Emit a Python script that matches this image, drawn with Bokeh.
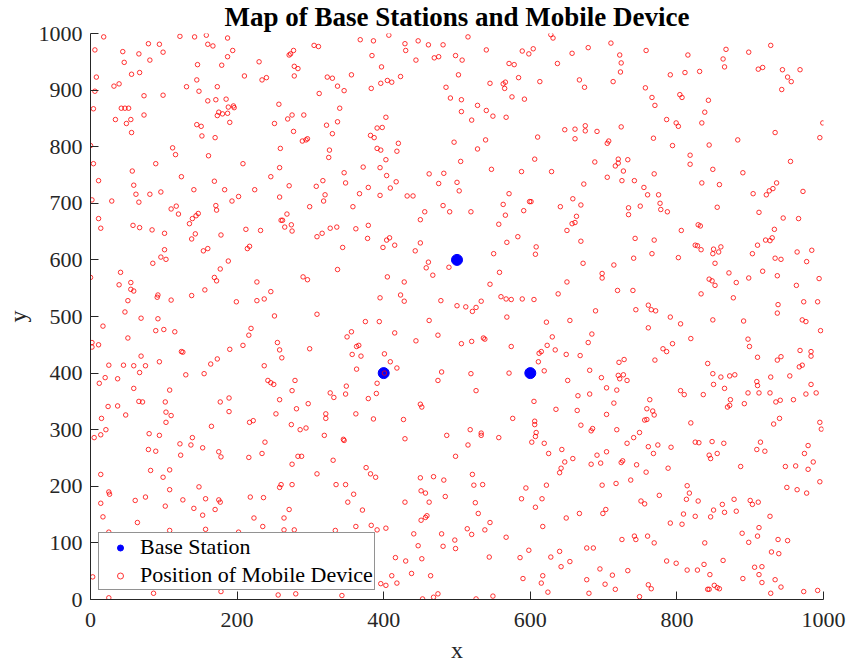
from bokeh.plotting import figure
from bokeh.models import FixedTicker, Legend, LegendItem, Range1d, Title
from bokeh.embed import file_html
from bokeh.resources import INLINE

title_text = "Map of Base Stations and Mobile Device"
x_label = "x"
y_label = "y"
x_ticks = [0, 200, 400, 600, 800, 1000]
y_ticks = [0, 100, 200, 300, 400, 500, 600, 700, 800, 900, 1000]

bs_x = [400, 500, 600]
bs_y = [400, 600, 400]

mobile_x = (
    [18,122,142,158,187,79,94,160,167,6,44,66,99,194,187,46,81,146,179,230,8,56,67,210,234,240,145,6,32,39,131,148,173,73,99,160,171,185,4,42,47,52,188,195,196,175,173,180,187,34,55,49,73,145,151,190,56,152,170,0,112,116,161,4,89,208,57,11,124,169,246,59,62,81,96,141,183,224,202,2,29,66,193,117,110,171,172,120,11,147,144,139]
    + [368,386,407,429,447,461,481,305,311,277,273,271,384,430,444,469,475,498,278,283,397,278,323,330,356,405,411,396,423,502,337,346,383,485,312,491,257,340,269,275,291,251,403,337,322,391,398,277,330,382,387,289,294,296,420,496,259,326,391,396,418,325,403,258,372,395,346,404,462,482,348,417,475,500,271,308,317,379,409,320,367,395,432,440,258,318,481,299,358,456,490,268,262,260,450]
    + [515,628,631,710,540,589,598,604,657,679,722,507,571,578,637,724,723,584,545,563,566,565,613,667,674,713,575,592,506,528,540,506,549,567,520,647,661,675,675,691,724,610,661,539,707,705,528,505,606,688,720,720,716,733,547,588,629,727,705,725,742,503,673,755,571,658,599,601,563,669,641,519,591,566,734,734,750,663]
    + [758,815,867,863,865,898,928,911,917,944,968,951,956,943,791,811,831,757,766,770,804,807,843,838,786,799,802,834,999,768,794,844,883,934,995,818,818,849,955,769,890,834,858,936,760,775,777,778,787,855,904,922,926,931,972,912,945,966]
    + [14,58,67,84,101,135,143,138,178,212,232,154,160,214,217,101,96,103,85,188,41,0,39,55,55,59,91,92,110,138,156,169,172,177,227,246,199,227,237,51,47,69,92,17,89,100,115,219,216,51,2,2,11,124,126,190,208,69,94,173,164,25,45,59,75,237,67,20,37,12,130,155,242,246,59,108,189,177,24,37,66,71,102,103,189]
    + [265,274,275,309,316,327,336,362,379,378,404,408,399,415,450,443,344,337,290,296,405,428,461,458,467,489,395,423,428,478,500,251,309,375,394,462,356,350,415,444,474,255,258,261,299,363,366,357,369,401,409,418,363,479,474,279,250,275,349,348,327,332,391,390,379,258,297,281,450,452,401]
    + [557,650,657,661,583,568,608,607,669,550,743,741,672,714,558,698,698,545,650,638,560,567,574,589,605,719,740,533,512,526,521,689,744,568,622,654,684,630,679,536,538,520,506,574,623,634,612,615,649,668,611,619,721,728,571,519,681,697,720,727,722,732,651,704,718,526,665,681,605,714,635,664]
    + [829,832,806,769,766,802,825,828,833,850,849,857,860,852,910,903,921,927,930,933,934,942,964,984,977,871,917,898,937,881,844,848,852,994,963,833,877,761,765,771,791,805,761,849,891,938,937,973,992,971,976,996,819,794,781,786,897,899,968,983,983,770,842,910,942,937,967,971,849,860,872,879,928,954,909,910,850,865,983,805,810,836,897,912,927,976,990,763,873,959,941,935,892,869,872,759,767]
    + [15,48,103,110,165,217,222,21,14,5,80,94,139,122,137,153,175,178,216,238,234,79,89,123,14,82,108,99,148,25,26,108,75,61,14,102,126,141,157,175,177,170,153,218,236,17,64,223,235,25,108,157,202,3,25,86,178]
    + [253,321,321,362,386,427,274,286,294,319,345,346,429,486,283,288,275,331,498,309,376,382,389,450,468,482,260,258,275,335,348,359,351,451,457,484,462,429,371,271,264,451,457,459,264,278,334,362,383,391,403,441,479,497,447,481,498,416,430,452,438,464,411,418,396,403,256,280,343,453,468,474]
    + [576,606,606,704,518,533,533,557,608,607,602,619,669,685,683,718,741,749,732,756,759,515,625,643,658,647,642,640,691,704,696,683,724,726,745,521,523,535,594,622,698,717,737,588,616,607,525,529,545,514,520,538,567,617,649,667,699,703,751,756,725,742,744,598,640,677,686,544,586,628,654,642,695,712,733,590,617,615,624,677,702,716,680,526,549,749]
    + [769,819,932,940,995,997,761,774,768,792,825,830,848,864,844,846,855,914,909,920,979,974,986,758,788,887,948,962,979,995,814,817,813,829,776,862,878,900,903,911,950,964,977,809,825,850,865,846,881,927,791,807,889,912,910,898,938,951,760,769,838,929,939,786,799,814,828,837,863,845,906,916,912,890,916,934,942,761,765,844,842,851,855,858,928,973,992]
)

mobile_y = (
    [994,995,994,997,992,982,981,981,978,971,968,964,967,970,959,949,953,945,944,950,923,928,931,925,918,922,918,898,907,911,906,898,906,890,891,881,883,884,867,868,868,868,870,872,869,861,855,858,859,848,848,841,856,839,836,843,825,819,816,802,798,786,784,770,770,770,757,740,747,739,747,732,716,716,720,724,724,724,712,706,704,702,704,695,690,696,688,681,673,682,678,673]
    + [989,987,997,982,987,980,980,979,977,970,964,962,961,970,953,957,959,961,942,938,941,925,923,921,927,917,914,912,924,927,907,899,903,905,894,886,875,868,849,856,856,841,852,844,838,833,834,827,823,820,816,810,812,814,806,808,797,794,797,794,792,781,777,763,764,763,754,749,752,753,736,738,735,737,731,730,740,728,727,715,717,714,713,713,711,704,696,694,694,685,685,681,670,670,671]
    + [994,998,992,983,971,969,964,973,965,975,962,953,947,945,947,948,932,922,912,911,914,903,915,918,905,915,888,884,883,873,864,862,854,852,847,830,831,837,828,827,835,817,814,812,810,806,796,774,778,773,778,771,766,777,760,756,756,757,746,740,740,722,734,728,717,708,703,703,698,697,694,685,687,679,692,680,695,677]
    + [970,962,972,955,941,967,979,937,940,936,936,923,915,901,927,931,933,904,887,873,892,887,882,861,848,842,836,842,842,815,802,803,812,825,816,785,769,760,774,752,754,736,733,736,715,715,700,689,685,693,717,715,722,726,721,684,674,673]
    + [656,661,657,653,647,664,646,637,644,654,652,616,620,620,624,618,605,601,594,598,578,569,556,560,548,545,534,538,529,537,547,569,563,584,561,544,526,528,531,528,508,497,496,483,475,477,473,479,467,462,454,446,450,438,437,442,449,430,420,425,416,414,414,413,413,413,401,392,390,382,397,399,387,383,373,370,356,349,341,342,350,349,349,331,332]
    + [658,662,651,641,647,656,658,655,661,638,635,639,622,626,630,616,622,583,570,565,570,561,596,586,573,587,533,538,527,528,519,501,504,491,491,493,473,464,471,457,467,454,441,427,443,447,449,433,430,434,420,409,407,402,387,387,380,369,377,363,365,357,382,364,355,353,346,337,345,340,400]
    + [663,652,664,666,641,631,623,610,633,611,638,603,594,591,578,576,568,557,561,540,535,531,530,531,530,546,546,527,517,516,509,510,512,499,490,493,469,464,454,462,460,456,452,447,449,441,435,438,433,431,420,404,419,424,400,399,405,392,396,397,390,387,387,374,370,369,360,363,350,347,336,334]
    + [662,660,652,635,611,604,626,625,618,619,611,614,623,594,626,611,635,634,639,654,603,601,614,617,597,577,580,568,572,560,566,563,555,567,555,540,533,520,512,510,499,487,480,494,492,521,506,526,526,494,491,475,461,452,443,438,460,447,440,438,430,423,417,428,429,423,411,414,399,393,395,397,393,395,385,378,380,373,380,369,362,362,365,365,365,363,365,353,353,353,352,349,346,340,343,337,333]
    + [320,326,313,325,306,313,316,300,291,286,293,290,286,275,273,268,261,252,251,278,258,265,262,255,221,228,229,216,199,190,186,194,181,175,170,165,176,161,178,176,172,159,149,181,180,146,136,144,129,119,122,124,119,40,3,11,14]
    + [328,328,320,328,319,318,309,300,303,290,283,281,284,290,253,253,239,246,253,222,233,222,216,215,217,211,203,198,203,203,203,186,172,192,188,182,172,172,158,159,144,140,145,148,123,123,122,129,131,123,126,116,116,105,95,94,90,74,68,72,46,42,42,29,28,25,8,10,7,1,4,10]
    + [320,315,309,327,300,294,290,286,295,288,278,276,308,302,298,300,286,295,276,317,318,273,258,265,249,243,232,224,255,261,241,239,242,245,238,221,202,203,197,202,202,205,211,178,178,163,171,152,136,125,115,123,110,129,144,152,152,159,174,169,106,112,106,87,85,91,91,75,74,75,67,58,54,43,51,37,42,29,13,35,27,18,11,1,6,5]
    + [326,312,310,320,313,301,270,273,258,269,278,277,279,276,255,249,258,278,265,262,272,258,243,225,232,235,235,236,230,208,201,188,177,174,184,168,177,175,168,172,198,194,188,151,147,158,154,146,156,147,135,133,117,127,112,101,106,104,112,100,100,84,81,68,64,52,52,62,69,44,57,58,44,37,30,35,22,26,19,18,18,25,21,19,11,14,16]
)

n = min(len(mobile_x), len(mobile_y))
mobile_x = mobile_x[:n]
mobile_y = mobile_y[:n]

SERIF = "Liberation Serif"
AXIS_COLOR = "#262626"

p = figure(
    frame_width=733, frame_height=566,
    x_range=Range1d(0, 1000), y_range=Range1d(0, 1000),
    output_backend="svg", toolbar_location=None,
    min_border_left=90, min_border_right=24,
    min_border_top=33, min_border_bottom=40,
    background_fill_color="white", border_fill_color="white",
)

p.title.text = title_text
p.title.text_font = SERIF
p.title.text_font_size = "27px"
p.title.text_font_style = "bold"
p.title.text_color = "black"
p.title.align = "center"
p.title.vertical_align = "top"
p.title.standoff = 0
p.title.offset = 0

p.grid.visible = False
p.outline_line_color = None

for ax in (p.xaxis[0], p.yaxis[0]):
    ax.major_tick_in = 8
    ax.major_tick_out = 0
    ax.minor_tick_line_color = None
    ax.axis_line_color = AXIS_COLOR
    ax.major_tick_line_color = AXIS_COLOR
    ax.major_label_text_font = SERIF
    ax.major_label_text_font_size = "22px"
    ax.major_label_text_color = AXIS_COLOR
    ax.axis_label_text_font = SERIF
    ax.axis_label_text_font_size = "24px"
    ax.axis_label_text_font_style = "normal"
    ax.axis_label_text_color = AXIS_COLOR

p.xaxis.ticker = FixedTicker(ticks=x_ticks)
p.yaxis.ticker = FixedTicker(ticks=y_ticks)
p.yaxis.axis_label = y_label
p.xaxis.major_label_standoff = 13
p.xaxis.major_label_text_line_height = 1.0
p.yaxis.major_label_standoff = 8
p.yaxis.axis_label_standoff = 5

# x-axis label as a text block below the tick labels
p.add_layout(Title(text=x_label, align="center", text_font=SERIF,
                   text_font_size="24px", text_font_style="normal",
                   text_color=AXIS_COLOR, standoff=10, text_line_height=1.0),
             "below")

bs = p.scatter(bs_x, bs_y, marker="circle", size=11,
               fill_color="#0000ff", line_color="#0000ff")
mob = p.scatter(mobile_x, mobile_y, marker="circle", size=4.5,
                fill_color=None, line_color="#ff0000", line_width=0.8)

legend = Legend(
    items=[LegendItem(label="Base Station", renderers=[bs]),
           LegendItem(label="Position of Mobile Device", renderers=[mob])],
    location=(8, 9),
    label_text_font=SERIF, label_text_font_size="22px", label_text_color="black",
    label_text_line_height=1.0,
    glyph_width=40, glyph_height=15, label_height=24,
    spacing=2, padding=1, margin=0, label_standoff=0,
    border_line_color=AXIS_COLOR, border_line_width=0.8,
    background_fill_color="white", background_fill_alpha=1.0,
)
p.add_layout(legend)

open("out.html", "w").write(file_html(p, INLINE))
